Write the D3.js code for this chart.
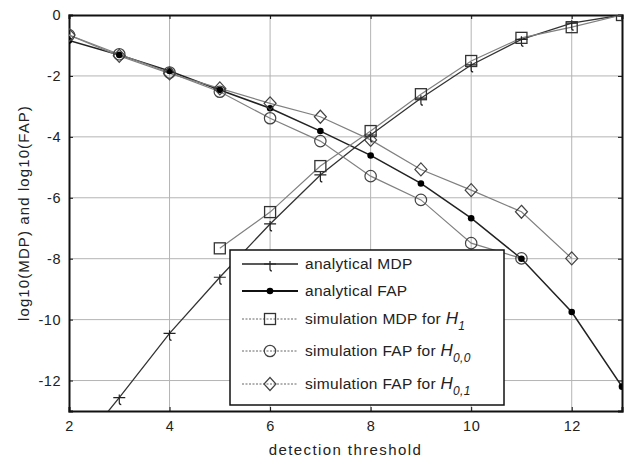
<!DOCTYPE html>
<html>
<head>
<meta charset="utf-8">
<script src="https://cdn.jsdelivr.net/npm/d3@7"></script>
<style>
body { margin: 0; background: #fff; }
svg { font-family: "Liberation Sans", Arial, sans-serif; }
</style>
</head>
<body>
<svg id="chart"></svg>
<script>
// data
let thresholds = [2, 3, 4, 5, 6, 7, 8, 9, 10, 11, 12, 13];
let anaMDP = [-14.6, -12.56, -10.45, -8.61, -6.86, -5.25, -3.94, -2.73, -1.64, -0.8, -0.27, 0];
let anaFAP = [-0.84, -1.31, -1.84, -2.46, -3.06, -3.81, -4.61, -5.53, -6.67, -8.0, -9.75, -12.2];
let simMDPx = [5, 6, 7, 8, 9, 10, 11, 12, 13];
let simMDP = [-7.66, -6.47, -4.96, -3.81, -2.60, -1.51, -0.75, -0.40, 0];
let simH00x = [2, 3, 4, 5, 6, 7, 8, 9, 10, 11];
let simH00 = [-0.66, -1.29, -1.89, -2.52, -3.39, -4.14, -5.29, -6.07, -7.49, -7.99];
let simH01x = [2, 3, 4, 5, 6, 7, 8, 9, 10, 11, 12];
let simH01 = [-0.66, -1.34, -1.92, -2.41, -2.90, -3.34, -4.10, -5.07, -5.75, -6.46, -7.99];
let xTicks = [2, 4, 6, 8, 10, 12];
let yTicks = [0, -2, -4, -6, -8, -10, -12];

let w = 627, h = 460;
let leftMargin = 69, rightEdge = 622, topMargin = 15, bottomEdge = 411;

let chart = d3.select('#chart').attr('width', w).attr('height', h);

let xScale = d3.scaleLinear().domain([2, 13]).range([leftMargin, rightEdge]);
let yScale = d3.scaleLinear().domain([-13, 0]).range([bottomEdge, topMargin]);

chart.append('clipPath').attr('id', 'plotclip')
	.append('rect')
	.attr('x', leftMargin).attr('y', topMargin)
	.attr('width', rightEdge - leftMargin).attr('height', bottomEdge - topMargin);

// grid
let grid = chart.append('g').attr('stroke', '#b4b4b4').attr('stroke-width', 1);
grid.selectAll('.vg').data(xTicks.slice(1)).enter().append('line')
	.attr('x1', d => xScale(d)).attr('x2', d => xScale(d))
	.attr('y1', topMargin).attr('y2', bottomEdge);
grid.selectAll('.hg').data(yTicks.slice(1)).enter().append('line')
	.attr('x1', leftMargin).attr('x2', rightEdge)
	.attr('y1', d => yScale(d)).attr('y2', d => yScale(d));

// axes
let xAxis = d3.axisBottom(xScale).tickValues(xTicks).tickSize(-4).tickPadding(10).tickFormat(d3.format('d'));
let yAxis = d3.axisLeft(yScale).tickValues(yTicks).tickSize(-4).tickPadding(8).tickFormat(d => d);

let xAxisGroup = chart.append('g').attr('transform', `translate(0, ${bottomEdge})`).call(xAxis);
let yAxisGroup = chart.append('g').attr('transform', `translate(${leftMargin}, 0)`).call(yAxis);
let yRight = chart.append('g').attr('transform', `translate(${rightEdge}, 0)`)
	.call(d3.axisRight(yScale).tickValues(yTicks).tickSize(-4).tickFormat(''));
let xTop = chart.append('g').attr('transform', `translate(0, ${topMargin})`)
	.call(d3.axisTop(xScale).tickValues(xTicks).tickSize(-4).tickFormat(''));

[xAxisGroup, yAxisGroup, yRight, xTop].forEach(g => {
	g.select('.domain').attr('stroke', '#111').attr('stroke-width', 2);
	g.selectAll('.tick line').attr('stroke', '#111');
	g.selectAll('.tick text').attr('fill', '#222').style('font-size', '14.5px')
		.style('letter-spacing', '0.5px');
});

// series
let lineGen = d3.line().x(d => xScale(d[0])).y(d => yScale(d[1]));
let plot = chart.append('g').attr('clip-path', 'url(#plotclip)');

function pairs(xs, ys) {
	return xs.map((x, i) => [x, ys[i]]);
}

let series = [
	{ name: 'mdp', pts: pairs(thresholds, anaMDP), color: '#333', width: 1.3, marker: 'plus' },
	{ name: 'fap', pts: pairs(thresholds, anaFAP), color: '#222', width: 1.5, marker: 'dot' },
	{ name: 'smdp', pts: pairs(simMDPx, simMDP), color: '#808080', width: 1.2, marker: 'square' },
	{ name: 'h00', pts: pairs(simH00x, simH00), color: '#808080', width: 1.2, marker: 'circle' },
	{ name: 'h01', pts: pairs(simH01x, simH01), color: '#808080', width: 1.2, marker: 'diamond' },
];

function drawMarker(g, type, x, y, color) {
	if (type === 'plus') {
		g.append('path')
			.attr('d', `M${x - 6},${y}H${x + 6}M${x},${y - 3}V${y + 5}q0,2 2,2`)
			.attr('fill', 'none').attr('stroke', '#222').attr('stroke-width', 1.2);
	} else if (type === 'dot') {
		g.append('circle').attr('cx', x).attr('cy', y).attr('r', 3.3).attr('fill', '#000');
	} else if (type === 'square') {
		g.append('rect').attr('x', x - 5.5).attr('y', y - 5.5).attr('width', 11).attr('height', 11)
			.attr('fill', 'none').attr('stroke', '#333').attr('stroke-width', 1.3);
	} else if (type === 'circle') {
		g.append('circle').attr('cx', x).attr('cy', y).attr('r', 5.7)
			.attr('fill', 'none').attr('stroke', '#444').attr('stroke-width', 1.2);
	} else if (type === 'diamond') {
		g.append('path').attr('d', `M${x},${y - 6.5}L${x + 6},${y}L${x},${y + 6.5}L${x - 6},${y}Z`)
			.attr('fill', 'none').attr('stroke', '#444').attr('stroke-width', 1.2);
	}
}

series.forEach(s => {
	plot.append('path').datum(s.pts)
		.attr('d', lineGen)
		.attr('fill', 'none')
		.attr('stroke', s.color)
		.attr('stroke-width', s.width);
});
series.forEach(s => {
	let mg = plot.append('g');
	s.pts.forEach(p => drawMarker(mg, s.marker, xScale(p[0]), yScale(p[1]), s.color));
});

// LABELS
chart.append('text')
	.attr('x', (leftMargin + rightEdge) / 2).attr('y', 455)
	.style('text-anchor', 'middle').style('font-size', '15px').style('letter-spacing', '1.4px')
	.attr('fill', '#222')
	.text('detection threshold');

chart.append('text')
	.attr('transform', 'rotate(-90)')
	.attr('x', -(topMargin + bottomEdge) / 2).attr('y', 29)
	.style('text-anchor', 'middle').style('font-size', '15px').style('letter-spacing', '1.1px')
	.attr('fill', '#222')
	.text('log10(MDP) and log10(FAP)');

// LEGEND
let legend = chart.append('g');
legend.append('rect')
	.attr('x', 230).attr('y', 250).attr('width', 274).attr('height', 155)
	.attr('fill', '#fff').attr('stroke', '#111').attr('stroke-width', 1.5);

let legendRows = [
	{ marker: 'plus', color: '#222', dash: null, width: 1.6, y: 264, label: ['analytical MDP'] },
	{ marker: 'dot', color: '#111', dash: null, width: 2, y: 291, label: ['analytical FAP'] },
	{ marker: 'square', color: '#666', dash: '2,1.5', width: 1, y: 319, label: ['simulation MDP for ', 'H', '1'] },
	{ marker: 'circle', color: '#666', dash: '2,1.5', width: 1, y: 351, label: ['simulation FAP for ', 'H', '0,0'] },
	{ marker: 'diamond', color: '#666', dash: '2,1.5', width: 1, y: 384, label: ['simulation FAP for ', 'H', '0,1'] },
];

legendRows.forEach(r => {
	legend.append('line')
		.attr('x1', 242).attr('x2', 298).attr('y1', r.y).attr('y2', r.y)
		.attr('stroke', r.color).attr('stroke-width', r.width)
		.attr('stroke-dasharray', r.dash);
	drawMarker(legend, r.marker, 270, r.y, r.color);
	let t = legend.append('text')
		.attr('x', 305).attr('y', r.y + 5)
		.style('font-size', '15.5px').style('letter-spacing', '0.3px').attr('fill', '#222');
	t.append('tspan').text(r.label[0]);
	if (r.label.length > 1) {
		t.append('tspan').style('font-style', 'italic').style('font-size', '17px').text(r.label[1]);
		t.append('tspan').style('font-style', 'italic').style('font-size', '12px')
			.attr('dy', 6).text(r.label[2]);
	}
});
</script>
</body>
</html>
